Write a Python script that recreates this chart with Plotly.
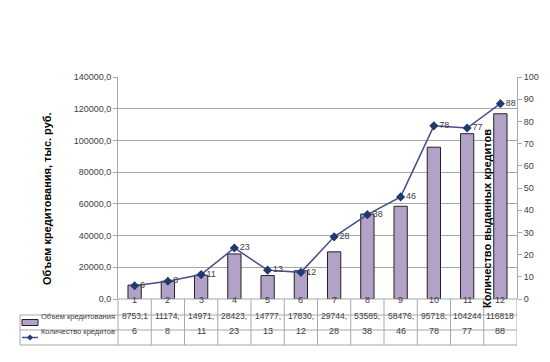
import plotly.graph_objects as go

categories = [1, 2, 3, 4, 5, 6, 7, 8, 9, 10, 11, 12]
volume = [8753.1, 11174.0, 14971.0, 28423.0, 14777.0, 17830.0, 29744.0, 53585.0, 58476.0, 95718.0, 104244.0, 116818.0]
count = [6, 8, 11, 23, 13, 12, 28, 38, 46, 78, 77, 88]
left_ticks = [0, 20000, 40000, 60000, 80000, 100000, 120000, 140000]
right_ticks = [0, 10, 20, 30, 40, 50, 60, 70, 80, 90, 100]
series_names = ["Объем кредитования", "Количество кредитов"]
left_title = "Объем кредитования, тыс. руб."
right_title = "Количество выданных кредитов"

W, H = 550, 362
L, R, T, B = 110, 41, 69, 71
PW, PH = W - L - R, H - T - B

def px(xp):
    return (xp - L) / PW

def py(yp):
    return (H - B - yp) / PH

FONT = "Liberation Sans"
TXT = "#404040"
GRID = "#A8A8A8"
BAR = "#B3A2C7"
LINE = "#4B4A8C"
MARK = "#1F3A6E"

fig = go.Figure()
fig.add_trace(go.Bar(
    x=categories, y=volume, name=series_names[0],
    marker=dict(color=BAR, line=dict(color="#222222", width=1)),
    width=0.4, yaxis="y"))
fig.add_trace(go.Scatter(
    x=categories, y=count, name=series_names[1], yaxis="y2",
    mode="lines+markers+text", text=[str(c) for c in count],
    textposition="middle right", textfont=dict(size=9, color=TXT, family=FONT),
    line=dict(color=LINE, width=1.5),
    marker=dict(symbol="diamond", size=7, color=MARK)))

fig.update_layout(
    width=W, height=H, margin=dict(l=L, r=R, t=T, b=B),
    paper_bgcolor="white", plot_bgcolor="white", showlegend=False,
    separators=", ",
    font=dict(family=FONT, size=9, color=TXT),
    xaxis=dict(range=[0.5, 12.5], showticklabels=False, showgrid=False,
               zeroline=False, showline=False, ticks=""),
    yaxis=dict(range=[0, 140000], tickvals=left_ticks, tickformat=".1f",
               showgrid=True, gridcolor=GRID, gridwidth=1, zeroline=False,
               showline=True, linecolor=GRID, ticks="outside", ticklen=4,
               tickcolor=GRID, tickfont=dict(size=9, color=TXT)),
    yaxis2=dict(range=[0, 100], tickvals=right_ticks, overlaying="y", side="right",
                showgrid=False, zeroline=False, showline=True, linecolor=GRID,
                ticks="outside", ticklen=4, tickcolor=GRID,
                tickfont=dict(size=9, color=TXT)),
)

shapes = []
anns = []
# axis titles
anns.append(dict(text="<b>" + left_title + "</b>", xref="paper", yref="paper",
                 x=px(31), y=py(191), textangle=-90, showarrow=False,
                 font=dict(size=11, color="black", family=FONT)))
anns.append(dict(text="<b>" + right_title + "</b>", xref="paper", yref="paper",
                 x=px(487), y=py(211), textangle=-90, showarrow=False,
                 font=dict(size=11, color="black", family=FONT)))

# data table
row_y = [299, 314.5, 329.5]
for i, c in enumerate(categories):
    anns.append(dict(text=str(c), xref="x", yref="paper", x=c, y=py(row_y[0]),
                     showarrow=False, font=dict(size=9, color=TXT)))
    vtxt = f"{volume[i]:.1f}".replace(".", ",")[:6]
    anns.append(dict(text=vtxt, xref="x", yref="paper", x=c, y=py(row_y[1]),
                     showarrow=False, font=dict(size=8.5, color=TXT)))
    anns.append(dict(text=str(count[i]), xref="x", yref="paper", x=c, y=py(row_y[2]),
                     showarrow=False, font=dict(size=9, color=TXT)))

tl = dict(color=GRID, width=1)
# horizontal table lines
shapes.append(dict(type="line", xref="paper", yref="paper", x0=0, x1=1, y0=0, y1=0, line=tl))
for yy in [307, 322, 337]:
    shapes.append(dict(type="line", xref="paper", yref="paper", x0=px(12), x1=1,
                       y0=py(yy), y1=py(yy), line=tl))
# vertical table lines
shapes.append(dict(type="line", xref="paper", yref="paper", x0=px(12), x1=px(12),
                   y0=py(307), y1=py(337), line=tl))
shapes.append(dict(type="line", xref="paper", yref="paper", x0=0, x1=0,
                   y0=0, y1=py(337), line=tl))
for k in range(len(categories)):
    xb = categories[k] + 0.5
    shapes.append(dict(type="line", xref="x", yref="paper", x0=xb, x1=xb,
                       y0=0, y1=py(337), line=tl))

# legend keys
shapes.append(dict(type="rect", xref="paper", yref="paper", x0=px(14), x1=px(30),
                   y0=py(317.5), y1=py(311.5), fillcolor=BAR,
                   line=dict(color="#222222", width=1)))
shapes.append(dict(type="line", xref="paper", yref="paper", x0=px(14), x1=px(30),
                   y0=py(329.5), y1=py(329.5), line=dict(color=LINE, width=1.5)))
cx, cy, d = 22, 329.5, 3
shapes.append(dict(type="path", xref="paper", yref="paper",
                   path=f"M {px(cx-d)},{py(cy)} L {px(cx)},{py(cy-d)} L {px(cx+d)},{py(cy)} L {px(cx)},{py(cy+d)} Z",
                   fillcolor=MARK, line=dict(color=MARK, width=0)))
anns.append(dict(text=series_names[0], xref="paper", yref="paper", x=px(31), y=py(314.5),
                 xanchor="left", showarrow=False, font=dict(size=7.5, color=TXT)))
anns.append(dict(text=series_names[1], xref="paper", yref="paper", x=px(31), y=py(329.5),
                 xanchor="left", showarrow=False, font=dict(size=7.5, color=TXT)))

fig.update_layout(shapes=shapes, annotations=anns)
fig.write_html("out.html")
